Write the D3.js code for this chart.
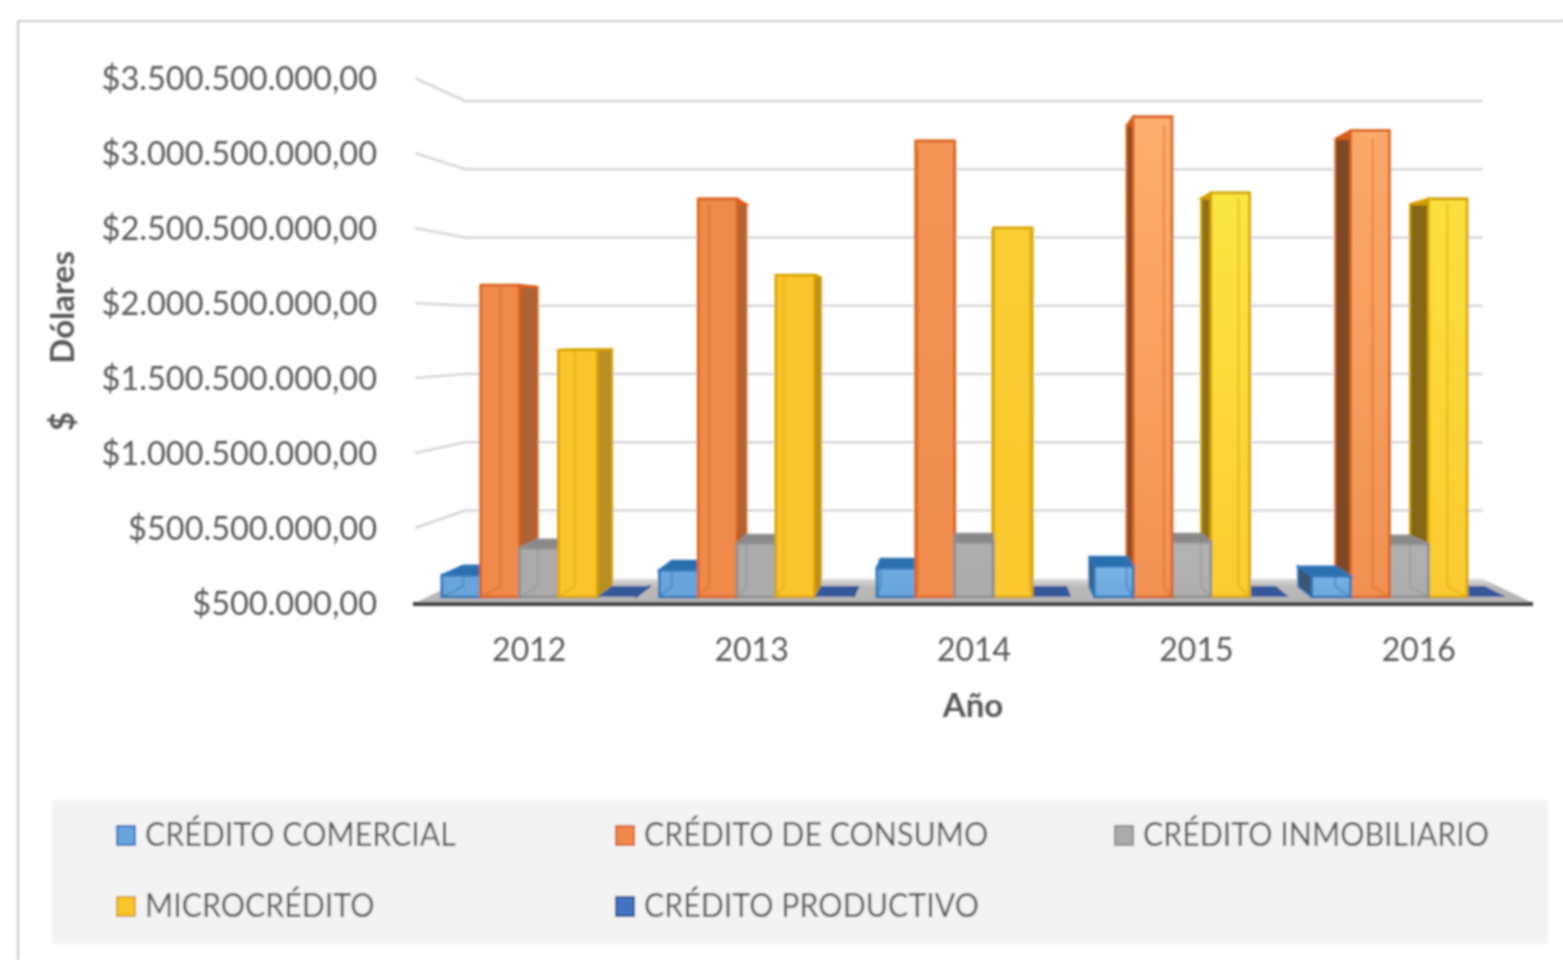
<!DOCTYPE html>
<html>
<head>
<meta charset="utf-8">
<script src="https://cdn.jsdelivr.net/npm/d3@7"></script>
<style>
  html, body { margin: 0; padding: 0; background: #fff; }
  svg { display: block; }
  text { font-family: Lato, "Open Sans", sans-serif; fill: #595959; }
</style>
</head>
<body>
<script>
var years = ['2012', '2013', '2014', '2015', '2016'];
var seriesNames = ['CRÉDITO COMERCIAL', 'CRÉDITO DE CONSUMO', 'CRÉDITO INMOBILIARIO', 'MICROCRÉDITO', 'CRÉDITO PRODUCTIVO'];
var comercial = [150000000, 184000000, 198000000, 211000000, 143000000];
var consumo = [2128000000, 2715000000, 3110000000, 3274000000, 3180000000];
var inmobiliario = [334000000, 368000000, 375000000, 375000000, 362000000];
var microcredito = [1685000000, 2196000000, 2517000000, 2756000000, 2715000000];
var productivo = [3000000, 3000000, 3000000, 3000000, 3000000];
var yTicks = [500000, 500500000, 1000500000, 1500500000, 2000500000, 2500500000, 3000500000, 3500500000];

var seriesValues = [comercial, consumo, inmobiliario, microcredito, productivo];
var seriesColors = ['#69a5dc', '#ef8a4b', '#ababab', '#fbc42c', '#4472c4'];
var seriesEdges = ['#2e75b6', '#d9621b', '#8f8f8f', '#d6a300', '#2f528f'];
var seriesTopLight = ['#7db5e6', '#ffb677', '#b4b4b4', '#fbec45', '#4472c4'];
var yearShine = [0, 0, 0.25, 0.85, 0.7];
var sideDark = [0.9, 0.9, 1, 1.6, 1.8];

var w = 1563,
    h = 960;

// the 3d look: everything is drawn in the front plane, then pulled to a vanishing point
var vp = { x: 970, y: 333 },
    depthShrink = 0.09,
    barFront = 0.245,
    barBack = 0.68;

var x0 = d3.scaleBand().domain(years).range([418, 1530]);
var x1 = d3.scaleBand().domain(seriesNames).range([0, x0.bandwidth()]).paddingInner(0).paddingOuter(0.3);
var y = d3.scaleLinear().domain([500000, 3500500000]).range([603, 78]);

function project(px, py, d) {
  var k = 1 - depthShrink * d;
  return [vp.x + (px - vp.x) * k, vp.y + (py - vp.y) * k];
}

// the original text is a bit narrower than Lato
function squeeze(sel, f) {
  sel.each(function() {
    d3.select(this)
      .attr('textLength', this.getComputedTextLength() * f)
      .attr('lengthAdjust', 'spacingAndGlyphs');
  });
}

var euro = d3.formatLocale({ decimal: ',', thousands: '.', grouping: [3], currency: ['$', ''] });

var svg = d3.select('body').append('svg')
  .attr('width', w)
  .attr('height', h);

var defs = svg.append('defs');
defs.append('filter').attr('id', 'soft')
  .attr('filterUnits', 'userSpaceOnUse')
  .attr('x', 0).attr('y', 0).attr('width', w).attr('height', h)
  .append('feGaussianBlur').attr('stdDeviation', 1);

var floorGrad = defs.append('linearGradient').attr('id', 'floor')
  .attr('x1', 0).attr('x2', 0).attr('y1', 0).attr('y2', 1);
floorGrad.append('stop').attr('offset', 0).attr('stop-color', '#dcdcdc');
floorGrad.append('stop').attr('offset', 0.35).attr('stop-color', '#b9b9b9');
floorGrad.append('stop').attr('offset', 1).attr('stop-color', '#b4b4b4');

years.forEach(function(yr, yi) {
  seriesNames.forEach(function(name, si) {
    var g = defs.append('linearGradient').attr('id', 'bar' + yi + '-' + si)
      .attr('x1', 0).attr('x2', 0).attr('y1', 0).attr('y2', 1);
    g.append('stop').attr('offset', 0)
      .attr('stop-color', d3.interpolateRgb(seriesColors[si], seriesTopLight[si])(yearShine[yi]));
    g.append('stop').attr('offset', 1)
      .attr('stop-color', d3.interpolateRgb(seriesColors[si], seriesTopLight[si])(yearShine[yi] * 0.2));
  });
});

var chart = svg.append('g').attr('filter', 'url(#soft)');

// outer frame, cut off by the picture on the right and bottom
chart.append('path')
  .attr('d', 'M18,' + h + 'V21H' + w)
  .attr('fill', 'none')
  .attr('stroke', '#c8c8c8')
  .attr('stroke-width', 2);

// gridlines: short slanted piece on the side wall, long one on the back wall
var gridLeft = 415,
    gridRight = 1533;

var grid = chart.append('g');
grid.selectAll('.grid')
  .data(yTicks.slice(1))
  .enter()
  .append('path')
    .attr('d', function(d) {
      return d3.line()([
        project(gridLeft, y(d), 0),
        project(gridLeft, y(d), 1),
        project(gridRight, y(d), 1)
      ]);
    })
    .attr('fill', 'none')
    .attr('stroke', '#d6d6d6')
    .attr('stroke-width', 2.6);

// floor
chart.append('path')
  .attr('d', d3.line()([
    project(gridLeft, y(500000), 0),
    project(gridLeft, y(500000), 1),
    project(gridRight, y(500000), 1),
    project(gridRight, y(500000), 0)
  ]) + 'Z')
  .attr('fill', 'url(#floor)');

// bars
var bars = [];
years.forEach(function(yr, yi) {
  seriesNames.forEach(function(name, si) {
    var left = x0(yr) + x1(name);
    bars.push({
      yi: yi,
      si: si,
      left: left,
      right: left + x1.bandwidth(),
      top: y(seriesValues[si][yi]),
      bottom: y(500000)
    });
  });
});

// furthest from the vanishing point goes first, so the inner bars cover its side
bars.sort(function(a, b) {
  return Math.abs((b.left + b.right) / 2 - vp.x) - Math.abs((a.left + a.right) / 2 - vp.x);
});

var barGroups = chart.append('g').selectAll('.bar')
  .data(bars)
  .enter()
  .append('g')
    .attr('class', 'bar');

function poly(points) {
  return d3.line()(points) + 'Z';
}

// side wall
barGroups.append('path')
  .attr('d', function(d) {
    var sx = (d.left + d.right) / 2 < vp.x ? d.right : d.left;
    return poly([
      project(sx, d.top, barFront),
      project(sx, d.top, barBack),
      project(sx, d.bottom, barBack),
      project(sx, d.bottom, barFront)
    ]);
  })
  .attr('fill', function(d) { return d3.color(seriesColors[d.si]).darker(sideDark[d.yi]); })
  .attr('stroke', function(d) { return seriesEdges[d.si]; })
  .attr('stroke-width', 2);

// top
barGroups.append('path')
  .attr('d', function(d) {
    return poly([
      project(d.left, d.top, barFront),
      project(d.right, d.top, barFront),
      project(d.right, d.top, barBack),
      project(d.left, d.top, barBack)
    ]);
  })
  .attr('fill', function(d) { return d.si === 4 ? '#34599c' : d3.color(seriesEdges[d.si]).darker(0.15); })
  .attr('stroke', function(d) { return seriesEdges[d.si]; })
  .attr('stroke-width', function(d) { return d.si === 4 ? 0 : 2; });

// front, productive is so small that only its top shows
barGroups.filter(function(d) { return d.si !== 4; }).append('path')
  .attr('d', function(d) {
    return poly([
      project(d.left, d.top, barFront),
      project(d.right, d.top, barFront),
      project(d.right, d.bottom, barFront),
      project(d.left, d.bottom, barFront)
    ]);
  })
  .attr('fill', function(d) { return 'url(#bar' + d.yi + '-' + d.si + ')'; })
  .attr('stroke', function(d) { return seriesEdges[d.si]; })
  .attr('stroke-width', 2.6);

// back edge seen through the glassy front
barGroups.filter(function(d) { return d.si !== 4; }).append('path')
  .attr('d', function(d) {
    var ex = (d.left + d.right) / 2 < vp.x ? d.left : d.right;
    return d3.line()([
      project(ex, d.top, barBack),
      project(ex, d.bottom, barBack),
      project(ex, d.bottom, barFront)
    ]);
  })
  .attr('fill', 'none')
  .attr('stroke', function(d) { return seriesEdges[d.si]; })
  .attr('stroke-opacity', 0.4)
  .attr('stroke-width', 2.5);

// axes
var yAxis = d3.axisLeft(y)
  .tickValues(yTicks)
  .tickSize(0)
  .tickPadding(0)
  .tickFormat(euro.format('$,.2f'));

var yG = chart.append('g')
  .attr('transform', 'translate(377,1)')
  .call(yAxis);
yG.select('.domain').remove();
yG.selectAll('text').style('font-size', '32.5px');

var xAxis = d3.axisBottom(x0)
  .tickSize(0)
  .tickPadding(0);

var xG = chart.append('g')
  .attr('transform', 'translate(0,638)')
  .call(xAxis);
xG.select('.domain').remove();
xG.selectAll('text').style('font-size', '32px');

chart.append('line')
  .attr('x1', gridLeft - 2)
  .attr('x2', gridRight)
  .attr('y1', 604)
  .attr('y2', 604)
  .attr('stroke', '#404040')
  .attr('stroke-width', 4);

chart.append('text')
  .text('Año')
  .attr('x', 973)
  .attr('y', 717)
  .attr('text-anchor', 'middle')
  .style('font-size', '33px')
  .style('font-weight', 700);

chart.append('text')
  .text('$      Dólares')
  .attr('transform', 'translate(74,341) rotate(-90)')
  .attr('text-anchor', 'middle')
  .style('white-space', 'pre')
  .style('font-size', '33px')
  .style('font-weight', 700);

// legend
chart.append('rect')
  .attr('x', 52)
  .attr('y', 800)
  .attr('width', 1496)
  .attr('height', 144)
  .attr('fill', '#f3f3f3');

var legendCols = [117, 616, 1115],
    legendRows = [835, 906];

var legend = chart.append('g').selectAll('.legend')
  .data(seriesNames)
  .enter()
  .append('g')
    .attr('class', 'legend')
    .attr('transform', function(d, i) {
      return 'translate(' + legendCols[i % 3] + ',' + legendRows[Math.floor(i / 3)] + ')';
    });

legend.append('rect')
  .attr('x', 0)
  .attr('y', -9)
  .attr('width', 18)
  .attr('height', 19)
  .attr('fill', function(d, i) { return seriesColors[i]; })
  .attr('stroke', function(d, i) { return seriesEdges[i]; })
  .attr('stroke-width', 2);

legend.append('text')
  .text(function(d) { return d; })
  .attr('x', 28)
  .attr('y', 11)
  .style('font-size', '32px')
  .call(squeeze, 0.948);
</script>
</body>
</html>
